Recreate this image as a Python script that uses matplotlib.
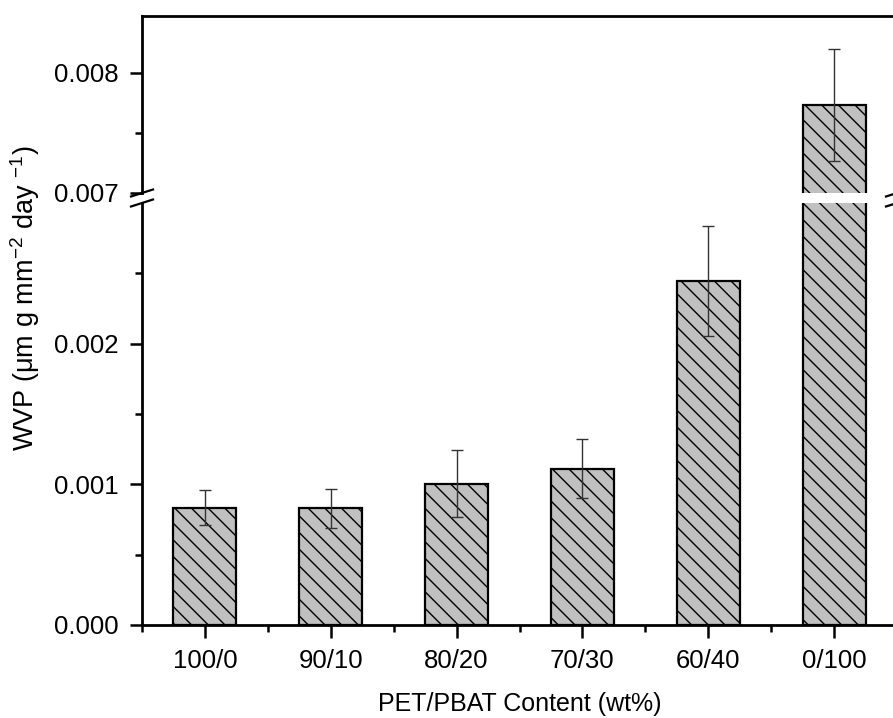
import matplotlib
matplotlib.use("Agg")
import matplotlib.pyplot as plt
import numpy as np

plt.rcParams["font.family"] = ["Liberation Sans", "DejaVu Sans"]
plt.rcParams["mathtext.fontset"] = "custom"
plt.rcParams["mathtext.rm"] = "Liberation Sans"
plt.rcParams["mathtext.it"] = "Liberation Sans:italic"
plt.rcParams["hatch.linewidth"] = 1.0

# data
categories = ["100/0", "90/10", "80/20", "70/30", "60/40", "0/100"]
wvp = [0.000835, 0.00083, 0.001005, 0.00111, 0.002447, 0.007733]
wvp_err = [0.000125, 0.00014, 0.00024, 0.00021, 0.00039, 0.00047]

lower_ticks = [0.000, 0.001, 0.002]
upper_ticks = [0.007, 0.008]

FS = 18.5
x = np.arange(1, len(categories) + 1)

fig = plt.figure(figsize=(8.93, 7.18), dpi=100)
W, H = 893.0, 718.0
left = 142 / W
width = (897 - 142) / W
ax_lo = fig.add_axes([left, 1 - 625 / H, width, (625 - 203) / H])
ax_hi = fig.add_axes([left, 1 - 193 / H, width, (193 - 16) / H])

for ax in (ax_lo, ax_hi):
	ax.bar(x, wvp, width=0.5, color="#c0c0c0", edgecolor="black",
		linewidth=1.6, hatch="\\\\", zorder=2)
	ax.errorbar(x, wvp, yerr=wvp_err, fmt="none", ecolor="#333333",
		elinewidth=1.0, capsize=4.5, capthick=1.0, zorder=3)
	ax.set_xlim(0.5, 6.5)
	ax.spines["right"].set_visible(False)
	for s in ("left", "top", "bottom"):
		ax.spines[s].set_linewidth(2.0)
	ax.tick_params(axis="both", which="major", direction="out", length=9,
		width=1.8, labelsize=FS)
	ax.tick_params(axis="both", which="minor", direction="out", length=5,
		width=1.8)
	ax.tick_params(axis="y", which="major", pad=8)
	ax.tick_params(axis="x", which="major", pad=8)
	ax.yaxis.set_major_formatter(matplotlib.ticker.FormatStrFormatter("%.3f"))

ax_lo.set_ylim(0, 0.003)
ax_lo.set_yticks(lower_ticks)
ax_lo.set_yticks([0.0005, 0.0015, 0.0025], minor=True)
ax_lo.spines["top"].set_visible(False)
ax_lo.set_xticks(x)
ax_lo.set_xticklabels(categories)
ax_lo.set_xticks(np.r_[x - 0.5, x[-1] + 0.5], minor=True)
ax_lo.set_xlabel("PET/PBAT Content (wt%)", fontsize=18, labelpad=14)

ax_hi.set_ylim(0.007, 0.008475)
ax_hi.set_yticks(upper_ticks)
ax_hi.set_yticks([0.0075], minor=True)
ax_hi.spines["bottom"].set_visible(False)
ax_hi.set_xticks([])
ax_hi.tick_params(axis="x", which="both", bottom=False, labelbottom=False)

# break marks
lo_h = 625 - 203
hi_h = 193 - 16
axw = 897 - 142
dx = 11 / axw
kw = dict(color="black", linewidth=1.6, clip_on=False)
for xe in (0, 1):
	ax_hi.plot([xe - dx, xe + dx], [-3.5 / hi_h, 3.5 / hi_h], transform=ax_hi.transAxes, **kw)
	ax_lo.plot([xe - dx, xe + dx], [1 - 3.5 / lo_h, 1 + 3.5 / lo_h], transform=ax_lo.transAxes, **kw)

fig.text(25 / W, 1 - 298 / H, "WVP (μm g mm$^{-2}$ day $^{-1}$)", rotation=90,
	ha="center", va="center", fontsize=19.5)

fig.savefig("out.png", dpi=100)
